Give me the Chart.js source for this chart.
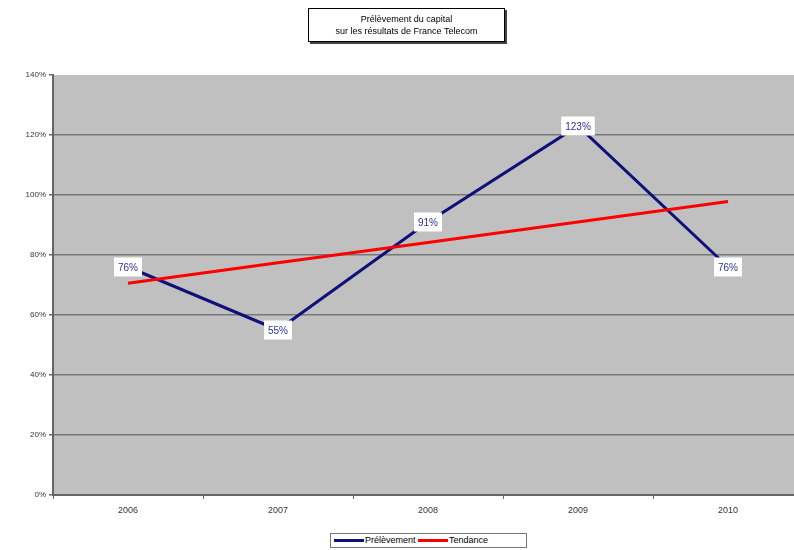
<!DOCTYPE html>
<html>
<head>
<meta charset="utf-8">
<script src="https://cdn.jsdelivr.net/npm/chart.js@4/dist/chart.umd.min.js"></script>
<style>
  html, body { margin: 0; padding: 0; background: #fff; }
  #wrap { position: relative; width: 794px; height: 550px; overflow: hidden; font-family: "Liberation Sans", Arial, sans-serif; }
  #titre {
    position: absolute; left: 308px; top: 8px; width: 197px;
    border: 1px solid #000; background: #fff; box-shadow: 2px 2px 0 #444;
    font-size: 9px; line-height: 12px; text-align: center; color: #000;
    padding-top: 4px; box-sizing: border-box; height: 34px;
  }
  #legende {
    position: absolute; left: 330px; top: 533px; width: 197px; height: 15px;
    border: 1px solid #777; background: #fff; box-sizing: border-box;
    font-size: 9px; line-height: 13px; color: #000; white-space: nowrap; padding-left: 3px;
  }
  #legende span.trait { display: inline-block; width: 30px; height: 3px; vertical-align: middle; margin-right: 1px; }
  canvas { position: absolute; left: 0; top: 0; }
</style>
</head>
<body>
<div id="wrap">
  <canvas id="graph" width="803" height="550"></canvas>
  <div id="titre">Prélèvement du capital<br>sur les résultats de France Telecom</div>
  <div id="legende"></div>
</div>
<script>
  // ==== Données ====
  const annees = ['2006', '2007', '2008', '2009', '2010'];
  const prelevement = [76, 55, 91, 123, 76];
  const tendance = [70.6, 77.4, 84.2, 91.0, 97.8];
  const ticksY = [0, 20, 40, 60, 80, 100, 120, 140];
  const series = ['Prélèvement', 'Tendance'];
  const couleurs = ['#10107a', '#ff0000'];

  // ==== Légende (HTML) ====
  document.getElementById('legende').innerHTML = series.map((nom, i) =>
    `<span class="trait" style="background:${couleurs[i]}"></span>${nom}`
  ).join('&nbsp;');

  // fond gris de la zone de tracé
  const fondGris = {
    id: 'fondGris',
    beforeDraw(chart) {
      const a = chart.chartArea, ctx = chart.ctx;
      ctx.save();
      ctx.fillStyle = '#c0c0c0';
      ctx.fillRect(a.left, a.top, a.right - a.left, a.bottom - a.top);
      ctx.restore();
    }
  };

  // étiquettes blanches sur les points
  const etiquettes = {
    id: 'etiquettes',
    afterDatasetsDraw(chart) {
      const ctx = chart.ctx;
      const meta = chart.getDatasetMeta(0);
      ctx.save();
      ctx.font = '10px "Liberation Sans", Arial, sans-serif';
      ctx.textAlign = 'center';
      ctx.textBaseline = 'middle';
      meta.data.forEach((pt, i) => {
        const txt = prelevement[i] + '%';
        const w = ctx.measureText(txt).width + 8;
        const h = 19;
        ctx.fillStyle = '#ffffff';
        ctx.fillRect(pt.x - w / 2, pt.y - h / 2, w, h);
        ctx.fillStyle = '#30309a';
        ctx.fillText(txt, pt.x, pt.y + 1);
      });
      ctx.restore();
    }
  };

  new Chart(document.getElementById('graph'), {
    type: 'line',
    data: {
      labels: annees,
      datasets: [{
        label: series[0],
        data: prelevement,
        borderColor: couleurs[0],
        borderWidth: 3,
        pointRadius: 0,
        tension: 0,
        order: 2
      }, {
        label: series[1],
        data: tendance,
        borderColor: couleurs[1],
        borderWidth: 3,
        pointRadius: 0,
        tension: 0,
        order: 1
      }]
    },
    options: {
      responsive: false,
      animation: false,
      layout: { padding: { top: 75, left: 0, right: 0, bottom: 33 } },
      plugins: {
        legend: { display: false },
        tooltip: { enabled: false },
        title: { display: false }
      },
      scales: {
        x: {
          offset: true,
          afterFit: s => { s.height = 22; },
          grid: { offset: true, drawOnChartArea: false, tickLength: 4, color: '#666', tickColor: '#666' },
          border: { color: '#666', width: 2 },
          ticks: { color: '#333', font: { size: 9, family: '"Liberation Sans", Arial, sans-serif' }, padding: 6, maxRotation: 0 }
        },
        y: {
          min: 0,
          max: 140,
          afterFit: s => { s.width = 53; },
          afterBuildTicks: s => { s.ticks = ticksY.map(v => ({ value: v })); },
          grid: {
            tickLength: 4,
            lineWidth: 1.5,
            color: ctx => (ctx.tick && (ctx.tick.value === 140 || ctx.tick.value === 0)) ? 'rgba(0,0,0,0)' : '#777',
            tickColor: '#666'
          },
          border: { color: '#666', width: 2 },
          ticks: {
            color: '#333',
            font: { size: 8, family: '"Liberation Sans", Arial, sans-serif' },
            padding: 3,
            callback: v => v + '%'
          }
        }
      }
    },
    plugins: [fondGris, etiquettes]
  });
</script>
</body>
</html>
